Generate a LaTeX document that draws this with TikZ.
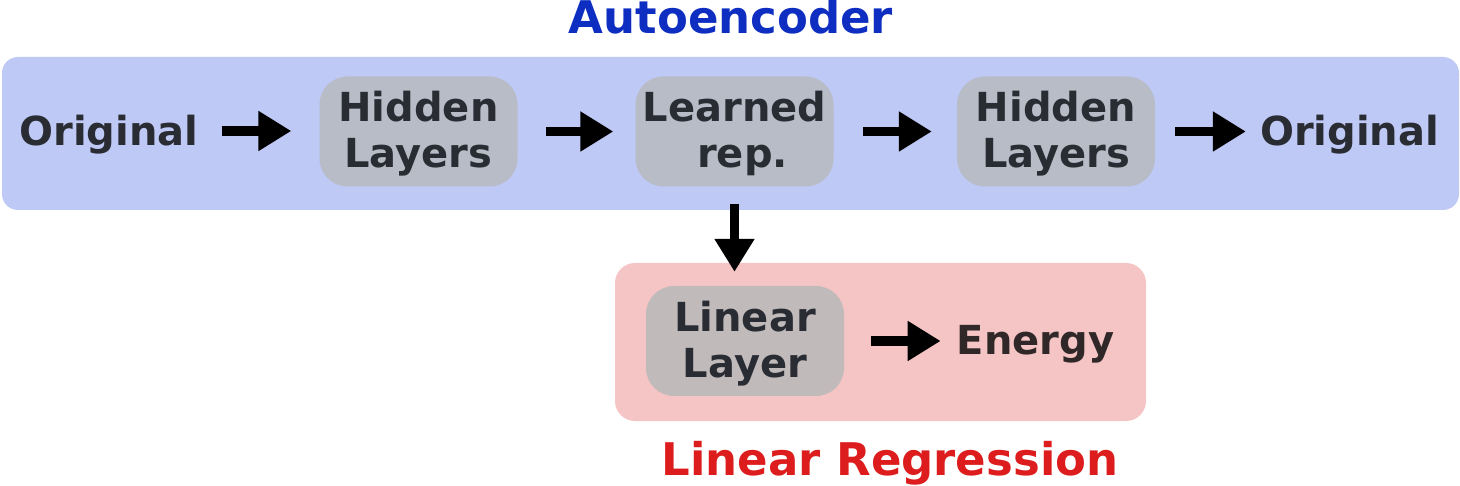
\documentclass[tikz,border=0pt]{standalone}
\usepackage{fontspec}
\setmainfont{DejaVu Sans}
\usetikzlibrary{arrows.meta,positioning}
\definecolor{aeblue}{HTML}{BFC9F5}
\definecolor{aeink}{HTML}{0D2EC0}
\definecolor{lrpink}{HTML}{F5C4C4}
\definecolor{lrink}{HTML}{DD1D1D}
\definecolor{boxgray}{HTML}{B8BCC6}
\definecolor{boxgraylr}{HTML}{C0BABA}
\definecolor{ink}{HTML}{2A2C34}
\definecolor{inklr}{HTML}{302828}

\begin{document}
\begin{tikzpicture}[x=1pt,y=-1pt,
    font=\fontsize{40}{46}\selectfont\bfseries,
    layerbox/.style={rounded corners=28pt,fill=boxgray,text=ink,align=center,
      minimum width=198pt,minimum height=110pt,inner sep=0pt,text depth=3.4pt},
    lbl/.style={text=ink,inner sep=0pt,text height=29pt,text depth=0pt},
    flow/.style={line width=9.5pt,-{Triangle[length=33pt,width=38pt]}}]
    \useasboundingbox (0,0) rectangle (1460,486);
    % Panels behind everything else.
    \node[fill=aeblue,rounded corners=16pt,minimum width=1457pt,
          minimum height=153pt,inner sep=0pt] (aepanel) at (730.5,133.5) {};
    \node[fill=lrpink,rounded corners=20pt,minimum width=531pt,
          minimum height=158pt,inner sep=0pt] (lrpanel) at (880.5,342) {};
    \node[text=aeink,font=\fontsize{45}{54}\selectfont\bfseries,anchor=base]
          (aetitle) at (731,34) {Autoencoder};
    \node[text=lrink,font=\fontsize{45}{54}\selectfont\bfseries,anchor=base]
          (lrtitle) at (890,475) {Linear Regression};

    \node[lbl] (orig1) at (109,131) {Original};
    \node[layerbox] (hid1) at (418.5,131.5) {Hidden\\Layers};
    \node[layerbox] (rep) at (734.5,131.5) {Learned\\\hspace*{0.4em}rep.};
    \node[layerbox] (hid2) at (1056,131.5) {Hidden\\Layers};
    \node[lbl] (orig2) at (1349.5,131) {Original};
    \node[layerbox,fill=boxgraylr] (lin) at (745,341) {Linear\\Layer};
    \node[lbl,text=inklr] (energy) at (1035.5,340) {Energy};

    \foreach \a/\b/\s/\e in {orig1/hid1/23/28,hid1/rep/28/22,rep/hid2/29/25,
                             hid2/orig2/20/14,lin/energy/27/16}
      \draw[flow,shorten <=\s pt,shorten >=\e pt] (\a.east) -- (\a.east -| \b.west);
    \draw[flow,shorten <=17pt,shorten >=14pt] (rep.south) -- (rep.south |- lin.north);
\end{tikzpicture}
\end{document}
